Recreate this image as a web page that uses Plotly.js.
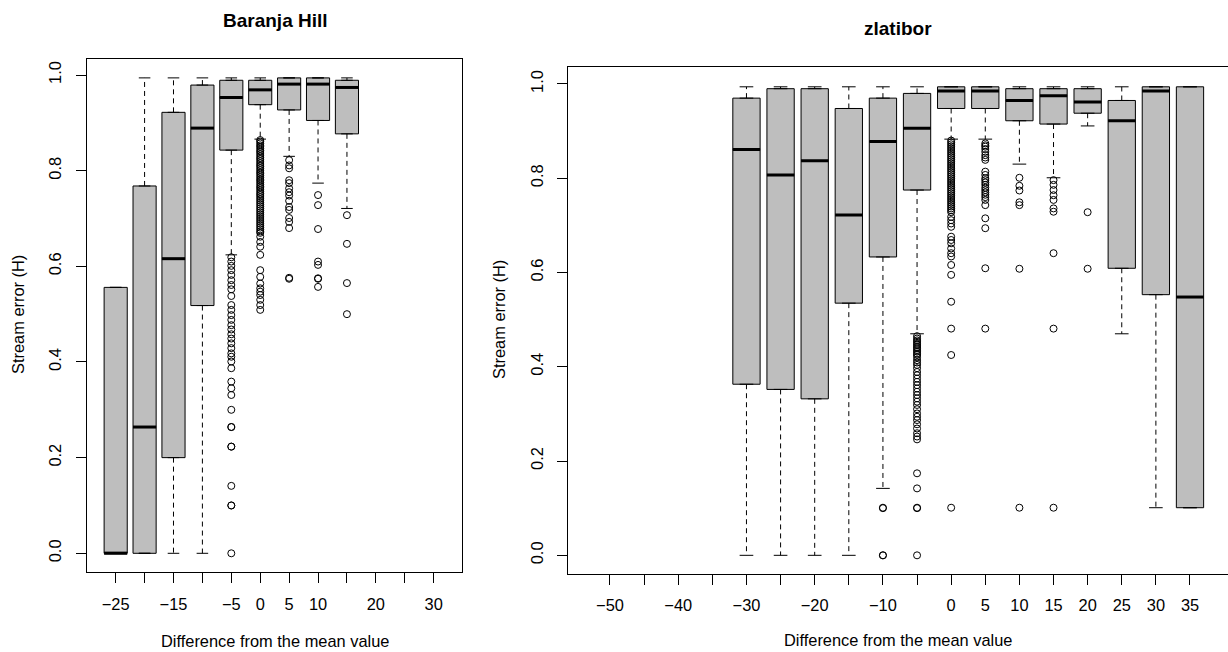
<!DOCTYPE html>
<html>
<head>
<meta charset="utf-8">
<script src="https://cdn.plot.ly/plotly-3.0.1.min.js"></script>
<style>
html,body{margin:0;padding:0;background:#fff;}
#chart{width:1228px;height:652px;}
</style>
</head>
<body>
<div id="chart"></div>
<script>
// ---------- Baranja Hill ----------
const bhTickVals = [-25,-20,-15,-10,-5,0,5,10,15,20,25,30];
const bhTickText = ["\u221225","","\u221215","","\u22125","0","5","10","","20","","30"];
const bhCats   = [-25,-20,-15,-10,-5,0,5,10,15];
const bhQ1     = [0.000,0.000,0.200,0.518,0.843,0.938,0.927,0.905,0.877];
const bhMedian = [0.000,0.264,0.616,0.889,0.953,0.969,0.981,0.981,0.974];
const bhQ3     = [0.556,0.768,0.922,0.979,0.989,0.989,0.994,0.994,0.989];
const bhLow    = [0.000,0.000,0.000,0.000,0.624,0.866,0.830,0.774,0.721];
const bhHigh   = [0.556,0.994,0.994,0.994,0.994,0.994,0.994,0.994,0.994];
const bhOutM5  = [0.619,0.610,0.601,0.592,0.582,0.571,0.561,0.552,0.538,0.519,0.509,0.498,0.488,0.477,0.468,0.458,0.449,0.439,0.429,0.418,0.411,0.401,0.387,0.359,0.345,0.331,0.300,0.264,0.264,0.223,0.223,0.141,0.100,0.100,0.000];
const bhOut0   = [0.864,0.861,0.857,0.853,0.850,0.846,0.842,0.839,0.835,0.831,0.827,0.824,0.820,0.816,0.812,0.809,0.805,0.801,0.797,0.794,0.790,0.786,0.782,0.779,0.775,0.771,0.767,0.764,0.760,0.756,0.752,0.749,0.745,0.741,0.737,0.733,0.729,0.725,0.721,0.717,0.713,0.709,0.705,0.701,0.697,0.693,0.689,0.685,0.681,0.677,0.673,0.670,0.662,0.651,0.641,0.624,0.592,0.578,0.564,0.554,0.547,0.540,0.530,0.519,0.509];
const bhOut5   = [0.822,0.811,0.805,0.780,0.774,0.763,0.755,0.748,0.737,0.724,0.718,0.701,0.693,0.680,0.576,0.574];
const bhOut10  = [0.749,0.728,0.678,0.610,0.603,0.575,0.574,0.557];
const bhOut15  = [0.707,0.647,0.565,0.500];
const bhOutCats = [-5,0,5,10,15];
const bhOutLists = [bhOutM5,bhOut0,bhOut5,bhOut10,bhOut15];

// ---------- zlatibor ----------
const zlTickVals = [-50,-45,-40,-35,-30,-25,-20,-15,-10,-5,0,5,10,15,20,25,30,35];
const zlTickText = ["\u221250","","\u221240","","\u221230","","\u221220","","\u221210","","0","5","10","15","20","25","30","35"];
const zlCats   = [-30,-25,-20,-15,-10,-5,0,5,10,15,20,25,30,35];
const zlQ1     = [0.363,0.352,0.332,0.535,0.633,0.775,0.948,0.948,0.922,0.915,0.938,0.609,0.553,0.101];
const zlMedian = [0.861,0.807,0.837,0.722,0.878,0.906,0.985,0.985,0.965,0.975,0.962,0.922,0.985,0.548];
const zlQ3     = [0.970,0.990,0.990,0.948,0.970,0.980,0.994,0.994,0.990,0.990,0.990,0.965,0.994,0.994];
const zlLow    = [0.000,0.000,0.000,0.000,0.142,0.470,0.883,0.883,0.830,0.801,0.911,0.470,0.101,0.101];
const zlHigh   = [0.994,0.994,0.994,0.994,0.994,0.994,0.994,0.994,0.994,0.994,0.994,0.994,0.994,0.994];
const zlOutM10 = [0.101,0.100,0.000,0.000];
const zlOutM5  = [0.465,0.460,0.456,0.453,0.449,0.446,0.442,0.439,0.435,0.432,0.428,0.425,0.420,0.414,0.409,0.404,0.397,0.389,0.382,0.375,0.368,0.361,0.354,0.347,0.340,0.333,0.326,0.319,0.310,0.301,0.294,0.287,0.278,0.269,0.259,0.252,0.246,0.174,0.142,0.101,0.100,0.000];
const zlOut0   = [0.880,0.876,0.872,0.868,0.864,0.860,0.856,0.852,0.848,0.844,0.840,0.836,0.832,0.828,0.824,0.820,0.816,0.812,0.808,0.804,0.800,0.796,0.792,0.788,0.784,0.780,0.776,0.772,0.768,0.764,0.760,0.756,0.752,0.748,0.744,0.740,0.736,0.732,0.728,0.718,0.711,0.704,0.697,0.676,0.669,0.662,0.651,0.641,0.634,0.616,0.595,0.538,0.481,0.425,0.101];
const zlOut5   = [0.874,0.870,0.867,0.862,0.856,0.849,0.844,0.839,0.814,0.807,0.800,0.796,0.791,0.786,0.780,0.775,0.770,0.765,0.760,0.754,0.743,0.715,0.694,0.609,0.481];
const zlOut10  = [0.801,0.784,0.774,0.749,0.743,0.608,0.101];
const zlOut15  = [0.796,0.786,0.775,0.764,0.754,0.736,0.729,0.641,0.481,0.101];
const zlOut20  = [0.728,0.608];
const zlOutCats = [-10,-5,0,5,10,15,20];
const zlOutLists = [zlOutM10,zlOutM5,zlOut0,zlOut5,zlOut10,zlOut15,zlOut20];

// ---------- helpers ----------
const BOXW = 4, STAPLE = 1;
const FONT = "Liberation Sans, Arial, Helvetica, sans-serif";
function panelTraces(cats,q1,med,q3,lo,hi,outCats,outLists,xa,ya){
  const t = [];
  const wx=[],wy=[];
  cats.forEach((c,i)=>{ wx.push(c,c,null,c,c,null); wy.push(q3[i],hi[i],null,q1[i],lo[i],null); });
  t.push({type:'scatter',mode:'lines',x:wx,y:wy,xaxis:xa,yaxis:ya,line:{color:'#000',width:1,dash:'5px,4px'},hoverinfo:'skip'});
  const sx=[],sy=[];
  cats.forEach((c,i)=>{ sx.push(c-STAPLE,c+STAPLE,null,c-STAPLE,c+STAPLE,null); sy.push(hi[i],hi[i],null,lo[i],lo[i],null); });
  t.push({type:'scatter',mode:'lines',x:sx,y:sy,xaxis:xa,yaxis:ya,line:{color:'#000',width:1},hoverinfo:'skip'});
  t.push({type:'box',x:cats,q1:q1,median:med,q3:q3,lowerfence:q1,upperfence:q3,width:BOXW,
    fillcolor:'#bebebe',line:{color:'#000',width:1},boxpoints:false,xaxis:xa,yaxis:ya,hoverinfo:'skip'});
  const mx=[],my=[];
  cats.forEach((c,i)=>{ mx.push(c-BOXW/2,c+BOXW/2,null); my.push(med[i],med[i],null); });
  t.push({type:'scatter',mode:'lines',x:mx,y:my,xaxis:xa,yaxis:ya,line:{color:'#000',width:3},hoverinfo:'skip'});
  const ox=[],oy=[];
  outCats.forEach((c,i)=>{ outLists[i].forEach(v=>{ ox.push(c); oy.push(v); }); });
  t.push({type:'scatter',mode:'markers',x:ox,y:oy,xaxis:xa,yaxis:ya,
    marker:{symbol:'circle-open',size:7,color:'#000',line:{width:1,color:'#000'}},hoverinfo:'skip'});
  return t;
}

const data = [].concat(
  panelTraces(bhCats,bhQ1,bhMedian,bhQ3,bhLow,bhHigh,bhOutCats,bhOutLists,'x','y'),
  panelTraces(zlCats,zlQ1,zlMedian,zlQ3,zlLow,zlHigh,zlOutCats,zlOutLists,'x2','y2')
);

const W=1228,H=652;
const px = x=>x/W, py = y=>1-y/H;
const axBase = {showgrid:false,zeroline:false,showline:true,linecolor:'#000',linewidth:1,
  ticks:'outside',ticklen:10,tickcolor:'#000',tickwidth:1,
  tickfont:{family:FONT,size:16.4,color:'#000'},fixedrange:true};
const yTicks = [0,0.2,0.4,0.6,0.8,1.0];
const yText = ["0.0","0.2","0.4","0.6","0.8","1.0"];

const layout = {
  width:W,height:H,margin:{l:0,r:0,t:0,b:0},
  paper_bgcolor:'#fff',plot_bgcolor:'#fff',showlegend:false,
  font:{family:FONT,size:16,color:'#000'},
  xaxis: Object.assign({},axBase,{domain:[px(87),px(462)],range:[-29.96,34.9],anchor:'y',mirror:true,
    tickmode:'array',tickvals:bhTickVals,ticktext:bhTickText,ticklabelstandoff:7}),
  yaxis: Object.assign({},axBase,{domain:[py(572),py(59)],range:[-0.0391,1.0335],anchor:'x',mirror:true,
    tickmode:'array',tickvals:yTicks,ticktext:yText,tickangle:-90,ticklabelstandoff:8}),
  xaxis2: Object.assign({},axBase,{domain:[px(568.3),1],range:[-56.11,40.57],anchor:'y2',mirror:true,
    tickmode:'array',tickvals:zlTickVals,ticktext:zlTickText,ticklabelstandoff:7}),
  yaxis2: Object.assign({},axBase,{domain:[py(573.7),py(67.3)],range:[-0.039,1.0354],anchor:'x2',mirror:false,
    tickmode:'array',tickvals:yTicks,ticktext:yText,tickangle:-90,ticklabelstandoff:8}),
  annotations:[
    {text:'<b>Baranja Hill</b>',x:px(275),y:py(20),xref:'paper',yref:'paper',showarrow:false,xanchor:'center',yanchor:'middle',font:{family:FONT,size:19,color:'#000'}},
    {text:'<b>zlatibor</b>',x:px(898),y:py(29),xref:'paper',yref:'paper',showarrow:false,xanchor:'center',yanchor:'middle',font:{family:FONT,size:19,color:'#000'}},
    {text:'Difference from the mean value',x:px(274.5),y:py(641),xref:'paper',yref:'paper',showarrow:false,xanchor:'center',yanchor:'middle',font:{family:FONT,size:16.4,color:'#000'}},
    {text:'Difference from the mean value',x:px(898),y:py(640),xref:'paper',yref:'paper',showarrow:false,xanchor:'center',yanchor:'middle',font:{family:FONT,size:16.4,color:'#000'}},
    {text:'Stream error (H)',x:px(18),y:py(315),xref:'paper',yref:'paper',showarrow:false,xanchor:'center',yanchor:'middle',textangle:-90,font:{family:FONT,size:16.4,color:'#000'}},
    {text:'Stream error (H)',x:px(499),y:py(320),xref:'paper',yref:'paper',showarrow:false,xanchor:'center',yanchor:'middle',textangle:-90,font:{family:FONT,size:16.4,color:'#000'}}
  ]
};
Plotly.newPlot('chart',data,layout,{displayModeBar:false,staticPlot:true});
</script>
</body>
</html>
